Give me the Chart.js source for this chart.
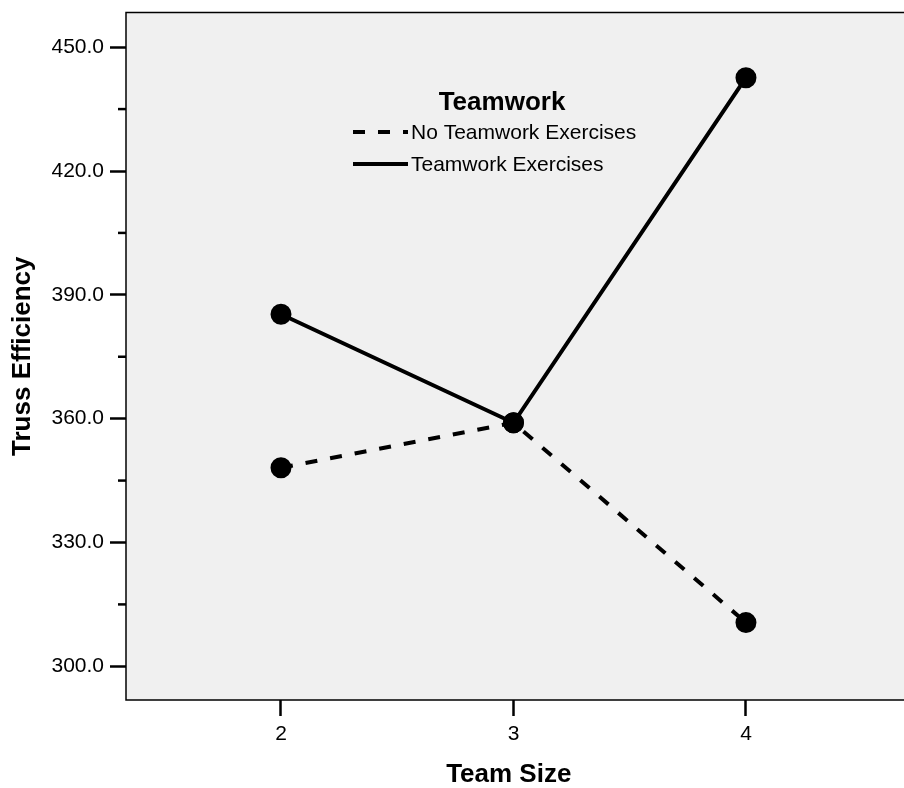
<!DOCTYPE html>
<html>
<head>
<meta charset="utf-8">
<script src="https://cdn.jsdelivr.net/npm/chart.js@4/dist/chart.umd.min.js"></script>
<style>
  html, body { margin: 0; padding: 0; background: #ffffff; }
  #wrap { width: 904px; height: 788px; }
</style>
</head>
<body>
<div id="wrap"><canvas id="trussChart" width="904" height="788"></canvas></div>
<script>
// values
const teamSizes = [2, 3, 4];
const noTeamworkEff = [348.1, 359.0, 310.6];
const teamworkEff = [385.3, 359.0, 442.6];
const yMajorTicks = [300, 330, 360, 390, 420, 450];
const yMinorTicks = [315, 345, 375, 405, 435];
const legendTitle = 'Teamwork';

const FONT = '"Liberation Sans", Arial, sans-serif';

function toPoints(ys) {
    return teamSizes.map((x, i) => ({ x: x, y: ys[i] }));
}

// grey plot area + frame + minor ticks + legend box inside the plot
const plotDecor = {
    id: 'plotDecor',
    beforeDraw(chart) {
        const { ctx, chartArea: a } = chart;
        ctx.save();
        ctx.fillStyle = '#f0f0f0';
        ctx.fillRect(a.left, a.top, chart.width - a.left, a.bottom - a.top);
        ctx.restore();
    },
    afterDatasetsDraw(chart) {
        const { ctx, chartArea: a } = chart;
        const yScale = chart.scales.y;
        ctx.save();
        ctx.strokeStyle = '#000';
        ctx.lineWidth = 1.5;
        ctx.beginPath();
        ctx.moveTo(chart.width, a.top);
        ctx.lineTo(a.left, a.top);
        ctx.lineTo(a.left, a.bottom);
        ctx.lineTo(chart.width, a.bottom);
        ctx.stroke();

        ctx.lineWidth = 2.5;
        yMinorTicks.forEach(v => {
            const py = yScale.getPixelForValue(v);
            ctx.beginPath();
            ctx.moveTo(a.left - 8, py);
            ctx.lineTo(a.left, py);
            ctx.stroke();
        });

        // legend
        ctx.fillStyle = '#000';
        ctx.font = 'bold 26px ' + FONT;
        ctx.textAlign = 'center';
        ctx.textBaseline = 'middle';
        ctx.fillText(legendTitle, 502, 103);

        ctx.font = '21px ' + FONT;
        ctx.textAlign = 'left';
        chart.data.datasets.forEach((ds, i) => {
            const ly = 132 + i * 32;
            ctx.lineWidth = 4;
            ctx.setLineDash(ds.borderDash || []);
            ctx.beginPath();
            ctx.moveTo(353, ly);
            ctx.lineTo(408, ly);
            ctx.stroke();
            ctx.setLineDash([]);
            ctx.fillText(ds.label, 411, ly + 1);
        });
        ctx.restore();
    }
};

new Chart(document.getElementById('trussChart'), {
    type: 'line',
    data: {
        datasets: [{
            label: 'No Teamwork Exercises',
            data: toPoints(noTeamworkEff),
            borderColor: '#000',
            backgroundColor: '#000',
            borderWidth: 4,
            borderDash: [12, 13],
            pointRadius: 8.5,
            pointHoverRadius: 8.5,
            fill: false
        }, {
            label: 'Teamwork Exercises',
            data: toPoints(teamworkEff),
            borderColor: '#000',
            backgroundColor: '#000',
            borderWidth: 4,
            pointRadius: 8.5,
            pointHoverRadius: 8.5,
            fill: false
        }]
    },
    options: {
        responsive: false,
        animation: false,
        layout: { padding: { top: 6, right: 0, left: 0, bottom: 0 } },
        plugins: {
            legend: { display: false },
            tooltip: { enabled: false }
        },
        scales: {
            x: {
                type: 'linear',
                min: 1.3333,
                max: 4.626,
                afterBuildTicks(scale) {
                    scale.ticks = teamSizes.map(v => ({ value: v }));
                },
                afterFit(scale) {
                    scale.height = 88;
                    scale.paddingLeft = 0;
                    scale.paddingRight = 0;
                },
                border: { display: false },
                grid: {
                    drawOnChartArea: false,
                    drawTicks: true,
                    tickLength: 16,
                    tickColor: '#000',
                    tickWidth: 2.5
                },
                ticks: {
                    color: '#000',
                    padding: 6,
                    font: { family: FONT, size: 21 },
                    callback: v => String(v)
                },
                title: {
                    display: true,
                    text: 'Team Size',
                    color: '#000',
                    font: { family: FONT, size: 26, weight: 'bold', lineHeight: 1 },
                    padding: { top: 0, bottom: 0 }
                }
            },
            y: {
                min: 291.84,
                max: 458.4,
                afterBuildTicks(scale) {
                    scale.ticks = yMajorTicks.map(v => ({ value: v }));
                },
                afterFit(scale) {
                    scale.width = 126;
                    scale.paddingTop = 0;
                    scale.paddingBottom = 0;
                },
                border: { display: false },
                grid: {
                    drawOnChartArea: false,
                    drawTicks: true,
                    tickLength: 16,
                    tickColor: '#000',
                    tickWidth: 2.5
                },
                ticks: {
                    color: '#000',
                    padding: 6,
                    font: { family: FONT, size: 21 },
                    callback: v => v.toFixed(1)
                },
                title: {
                    display: true,
                    text: 'Truss Efficiency',
                    color: '#000',
                    font: { family: FONT, size: 26, weight: 'bold', lineHeight: 1 },
                    padding: { top: 10, bottom: 0 }
                }
            }
        }
    },
    plugins: [plotDecor]
});
</script>
</body>
</html>
